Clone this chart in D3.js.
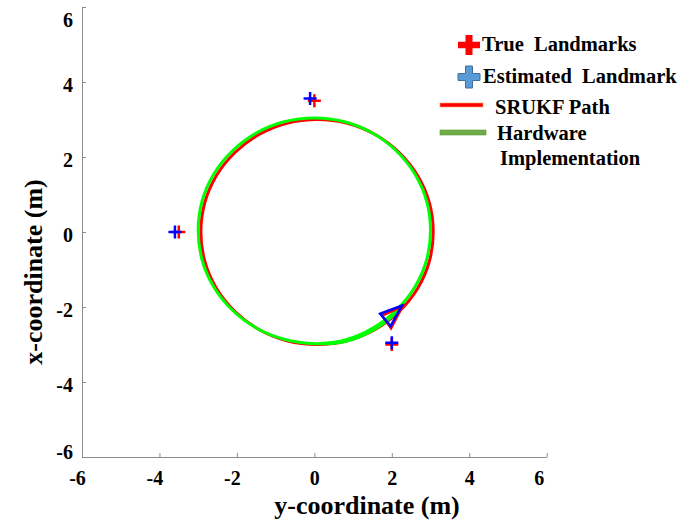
<!DOCTYPE html>
<html>
<head>
<meta charset="utf-8">
<script src="https://cdn.jsdelivr.net/npm/d3@7"></script>
<style>
  body { margin: 0; background: #fff; }
</style>
</head>
<body>
<div id="viz-container"></div>
<script>
'use strict';

// Tick values on both axes
const xTicks = [-6, -4, -2, 0, 2, 4, 6];
const yTicks = [-6, -4, -2, 0, 2, 4, 6];

// Landmarks [y-coord, x-coord] as plotted (horizontal, vertical)
const trueLandmarks = [[0, 3.5], [-3.5, 0], [2, -3]];
const estLandmarks = [[-0.11, 3.56], [-3.6, 0], [2, -2.95]];

// SRUKF path (starts at bottom, goes round once and a bit)
const srukfPath = [
  [0.07, -3.00], [0.85, -2.90], [1.57, -2.60], [2.19, -2.12], [2.67, -1.50],
  [2.97, -0.78], [3.07, 0.00], [2.97, 0.78], [2.67, 1.50], [2.19, 2.12],
  [1.57, 2.60], [0.85, 2.90], [0.07, 3.00], [-0.71, 2.90], [-1.43, 2.60],
  [-2.05, 2.12], [-2.53, 1.50], [-2.83, 0.78], [-2.93, 0.00], [-2.83, -0.78],
  [-2.53, -1.50], [-2.05, -2.12], [-1.43, -2.60], [-0.71, -2.90], [0.07, -3.00],
  [0.85, -2.90], [1.57, -2.60], [2.19, -2.12], [2.27, -2.02]
];

// Hardware implementation path
const hardwarePath = [
  [0.10, -2.98], [0.80, -2.88], [1.50, -2.57], [2.12, -2.08], [2.60, -1.46],
  [2.90, -0.74], [3.00, 0.04], [2.90, 0.82], [2.60, 1.54], [2.12, 2.16],
  [1.50, 2.64], [0.78, 2.94], [0.00, 3.04], [-0.78, 2.94], [-1.50, 2.64],
  [-2.12, 2.16], [-2.60, 1.54], [-2.90, 0.82], [-3.00, 0.04], [-2.90, -0.74],
  [-2.60, -1.46], [-2.12, -2.08], [-1.50, -2.56], [-0.78, -2.86], [0.02, -2.98],
  [0.80, -2.92], [1.52, -2.62], [2.14, -2.12], [2.25, -1.97]
];

// Final robot pose triangles
const truePose = [[1.75, -2.23], [2.28, -1.98], [1.98, -2.57]];
const estPose = [[1.70, -2.18], [2.26, -1.96], [1.97, -2.51]];

const legendLabels = ['True\u00a0 Landmarks', 'Estimated\u00a0 Landmark', 'SRUKF Path', 'Hardware', 'Implementation'];

const width = 680, height = 522;
const fontFam = 'Liberation Serif';

const svg = d3.select('#viz-container')
  .append('svg')
  .attr('width', width)
  .attr('height', height)
  .attr('font-family', fontFam)
  .attr('font-weight', 'bold');

const x = d3.scaleLinear().domain([-6, 6]).range([82, 546.7]);
const y = d3.scaleLinear().domain([-6, 6]).range([457, 7]);

const axisColor = '#8c8c8c';

// x axis
const gx = svg.append('g')
  .attr('transform', 'translate(0,' + y(-6) + ')')
  .call(d3.axisBottom(x).tickValues(xTicks).tickSize(-4).tickSizeOuter(0));
gx.attr('font-family', fontFam);
gx.select('.domain').attr('stroke', axisColor);
gx.selectAll('.tick line').attr('stroke', axisColor);
gx.selectAll('.tick text')
  .attr('font-family', fontFam)
  .attr('font-weight', 'bold')
  .attr('font-size', 20)
  .attr('y', 28)
  .attr('dy', null)
  .attr('dx', d => d === 6 ? -8 : (d < 0 ? -5 : 0))
  .text(d => d < 0 ? '-' + Math.abs(d) : d);

// y axis
const gy = svg.append('g')
  .attr('transform', 'translate(' + x(-6) + ',0)')
  .call(d3.axisLeft(y).tickValues(yTicks).tickSize(-4).tickSizeOuter(0));
gy.attr('font-family', fontFam);
gy.select('.domain').attr('stroke', axisColor);
gy.selectAll('.tick line').attr('stroke', axisColor);
gy.selectAll('.tick text')
  .attr('font-family', fontFam)
  .attr('font-weight', 'bold')
  .attr('font-size', 20)
  .attr('x', -9)
  .attr('dy', null)
  .attr('y', d => d === 6 ? 19 : (d === -6 ? 1 : 9))
  .text(d => d < 0 ? '-' + Math.abs(d) : d);

// axis titles
svg.append('text')
  .attr('x', 367)
  .attr('y', 514)
  .attr('text-anchor', 'middle')
  .attr('font-family', fontFam)
  .attr('font-size', 26)
  .text('y-coordinate (m)');

svg.append('text')
  .attr('transform', 'translate(42,272) rotate(-90)')
  .attr('text-anchor', 'middle')
  .attr('font-family', fontFam)
  .attr('font-size', 26)
  .text('x-coordinate (m)');

// paths
const line = d3.line()
  .x(d => x(d[0]))
  .y(d => y(d[1]))
  .curve(d3.curveCatmullRom);

svg.append('path')
  .datum(srukfPath)
  .attr('d', line)
  .attr('fill', 'none')
  .attr('stroke', '#ff0000')
  .attr('stroke-width', 3);

svg.append('path')
  .datum(hardwarePath)
  .attr('d', line)
  .attr('fill', 'none')
  .attr('stroke', '#00ff00')
  .attr('stroke-width', 3);

// pose triangles
const tri = d3.line().x(d => x(d[0])).y(d => y(d[1])).curve(d3.curveLinearClosed);
svg.append('path').datum(truePose).attr('d', tri)
  .attr('fill', 'none').attr('stroke', '#ff0000').attr('stroke-width', 2.5);
svg.append('path').datum(estPose).attr('d', tri)
  .attr('fill', 'none').attr('stroke', '#0000ff').attr('stroke-width', 2.5);

// landmark markers
const plus = 'M-6.5,0H6.5M0,-6.5V6.5';
svg.selectAll('.true-lm')
  .data(trueLandmarks)
  .enter()
  .append('path')
  .attr('class', 'true-lm')
  .attr('transform', d => 'translate(' + x(d[0]) + ',' + y(d[1]) + ')')
  .attr('d', plus)
  .attr('fill', 'none')
  .attr('stroke', '#ff0000')
  .attr('stroke-width', 2.5);

svg.selectAll('.est-lm')
  .data(estLandmarks)
  .enter()
  .append('path')
  .attr('class', 'est-lm')
  .attr('transform', d => 'translate(' + x(d[0]) + ',' + y(d[1]) + ')')
  .attr('d', plus)
  .attr('fill', 'none')
  .attr('stroke', '#0000ff')
  .attr('stroke-width', 2.5);

// legend
const legend = svg.append('g');
const cross = 'M-3.5,-11H3.5V-3.5H11V3.5H3.5V11H-3.5V3.5H-11V-3.5H-3.5Z';

legend.append('path')
  .attr('transform', 'translate(469,45) scale(1,0.92)')
  .attr('d', cross)
  .attr('fill', '#ff0000');
legend.append('path')
  .attr('transform', 'translate(469,77)')
  .attr('d', cross)
  .attr('fill', '#5b9bd5')
  .attr('stroke', '#41719c')
  .attr('stroke-width', 1);

legend.append('rect')
  .attr('x', 440).attr('y', 103).attr('width', 43).attr('height', 4)
  .attr('fill', '#ff0000').attr('stroke', '#f4a060').attr('stroke-width', 0.6);
legend.append('rect')
  .attr('x', 440).attr('y', 130).attr('width', 46).attr('height', 5)
  .attr('fill', '#70ad47').attr('stroke', '#5f9a3c').attr('stroke-width', 0.6);

const legendPos = [[482, 51], [483, 83], [495, 114], [497, 140], [500, 165]];
legend.selectAll('text')
  .data(legendLabels)
  .enter()
  .append('text')
  .attr('x', (d, i) => legendPos[i][0])
  .attr('y', (d, i) => legendPos[i][1])
  .attr('font-family', fontFam)
  .attr('font-size', 20.5)
  .text(d => d);
</script>
</body>
</html>
